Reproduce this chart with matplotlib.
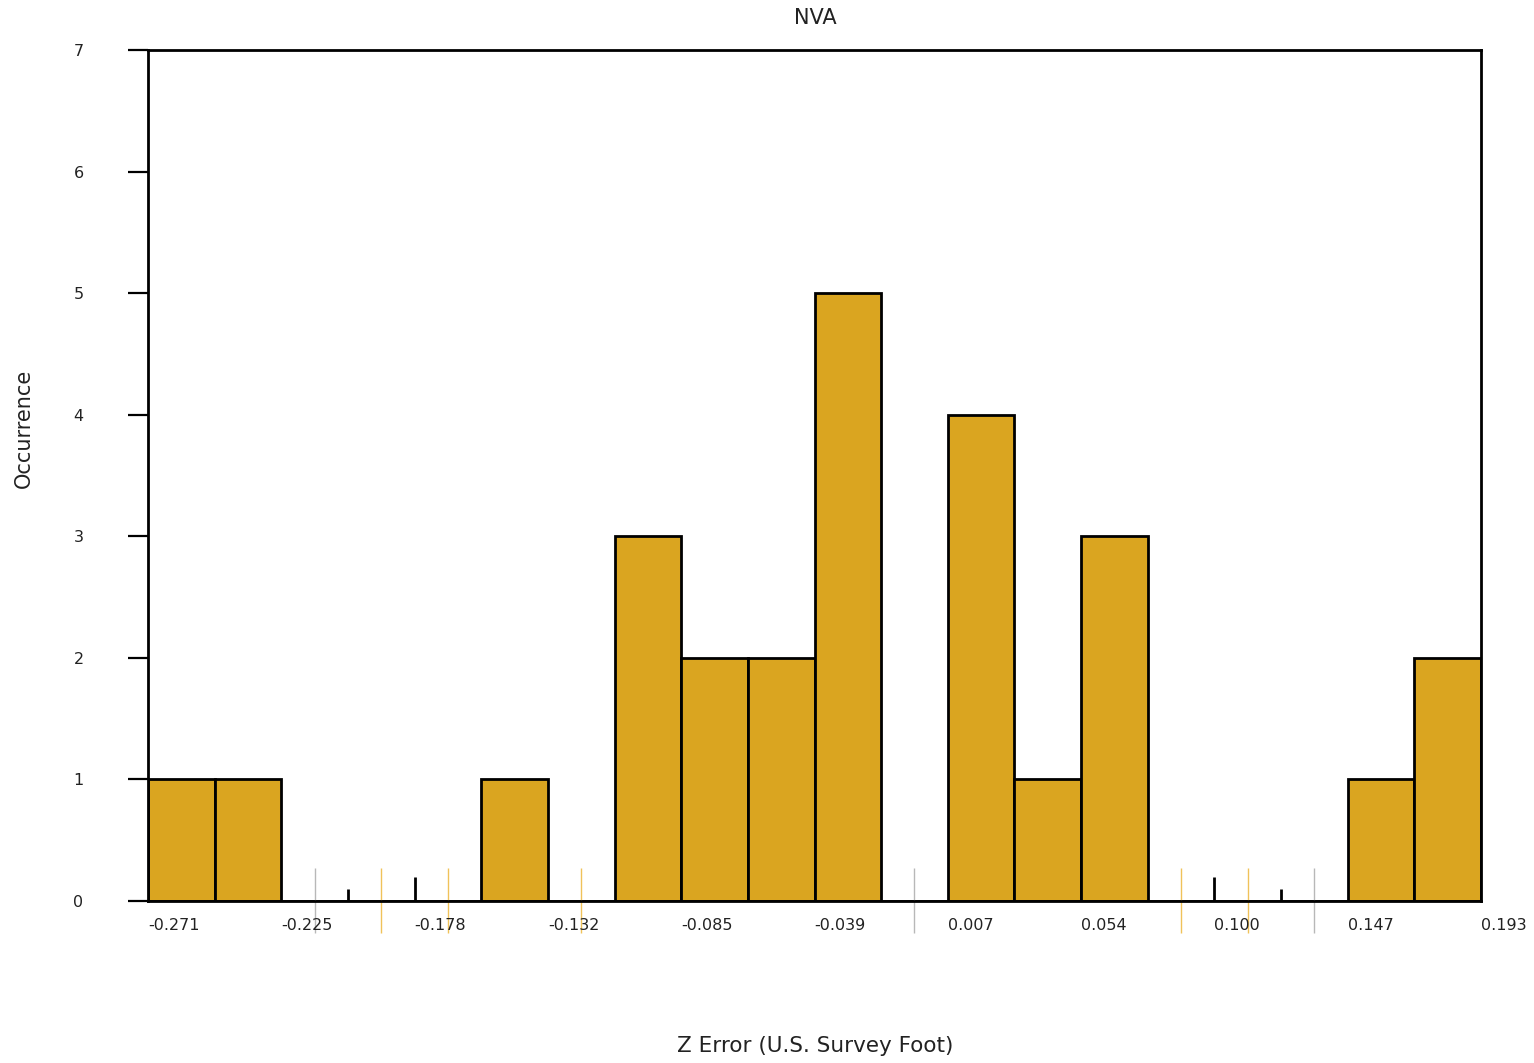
import matplotlib
matplotlib.use("Agg")
import matplotlib.pyplot as plt
import numpy as np

# histogram data
x_min, x_max = -0.271, 0.193
counts = [1, 1, 0, 0, 0, 1, 0, 3, 2, 2, 5, 0, 4, 1, 3, 0, 0, 0, 1, 2]
tick_labels = ["-0.271", "-0.225", "-0.178", "-0.132", "-0.085", "-0.039",
               "0.007", "0.054", "0.100", "0.147", "0.193"]
# faint marker lines drawn in the empty bins (as in the original render)
empty_line_colors = ["#b8b8b8", "#f0c25a", "#f0c25a", "#f0c25a",
                     "#b8b8b8", "#f0c25a", "#f0c25a", "#b8b8b8"]
# small black stubs at some empty-bin edges: (edge index, height)
stub_edges = [3, 4, 16, 17]
stub_heights = [0.1, 0.2, 0.2, 0.1]

edges = np.linspace(x_min, x_max, len(counts) + 1)
width = edges[1] - edges[0]
centers = edges[:-1] + width / 2

fig = plt.figure(figsize=(15.34, 10.63), dpi=100)
ax = fig.add_axes([148 / 1534, 1 - 901 / 1063, 1333 / 1534, 851 / 1063])

ax.bar(edges[:-1], counts, width=width, align="edge",
       color="#DAA520", edgecolor="black", linewidth=2)

empty = [c for c, n in zip(centers, counts) if n == 0]
for xc, col in zip(empty, empty_line_colors):
    ax.vlines(xc, -0.26, 0.27, color=col, linewidth=1, clip_on=False, zorder=1)
for i, h in zip(stub_edges, stub_heights):
    ax.vlines(edges[i], 0, h, color="black", linewidth=2, zorder=3)

ax.set_xlim(x_min, x_max)
ax.set_ylim(0, 7)

for s in ax.spines.values():
    s.set_linewidth(2)
    s.set_color("black")

ax.set_yticks(range(8))
ax.tick_params(axis="y", direction="out", length=14.4, width=1.6,
               pad=32, labelsize=11.5, colors="black")
ax.set_xticks(edges[::2])
ax.set_xticklabels(tick_labels, ha="left")
ax.tick_params(axis="x", length=0, pad=12, labelsize=11.5)
for lab in ax.get_xticklabels() + ax.get_yticklabels():
    lab.set_color("#222222")

fig.text(815 / 1534, 1 - 18 / 1063, "NVA", ha="center", va="center",
         fontsize=15, color="#222222")
fig.text(24 / 1534, 1 - 428 / 1063, "Occurrence", ha="center", va="center",
         rotation=90, fontsize=15, color="#222222")
fig.text(815 / 1534, 1 - 1046 / 1063, "Z Error (U.S. Survey Foot)",
         ha="center", va="center", fontsize=15.5, color="#222222")

fig.savefig("out.png", dpi=100, facecolor="white")
